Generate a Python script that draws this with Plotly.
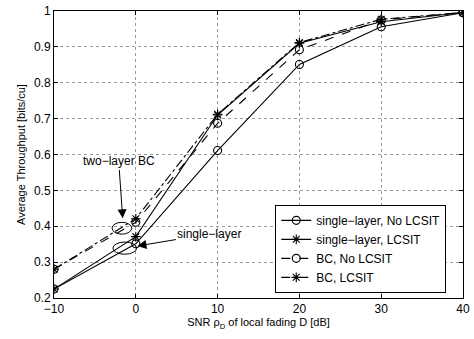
import plotly.graph_objects as go

snr = [-10, 0, 10, 20, 30, 40]
single_no_lcsit = [0.225, 0.351, 0.611, 0.851, 0.956, 0.995]
single_lcsit = [0.225, 0.371, 0.710, 0.910, 0.970, 0.996]
bc_no_lcsit = [0.280, 0.411, 0.687, 0.892, 0.975, 0.996]
bc_lcsit = [0.280, 0.421, 0.712, 0.912, 0.977, 0.996]

x_ticks = [-10, 0, 10, 20, 30, 40]
x_ticklabels = ["\u221210", "0", "10", "20", "30", "40"]
y_ticks = [0.2, 0.3, 0.4, 0.5, 0.6, 0.7, 0.8, 0.9, 1.0]
y_ticklabels = ["0.2", "0.3", "0.4", "0.5", "0.6", "0.7", "0.8", "0.9", "1"]

# highlighted regions (ellipses) in data units: x0, x1, y0, y1
ellipse_bc = [-2.9, -0.5, 0.378, 0.411]
ellipse_single = [-2.8, 0.1, 0.322, 0.356]

FONT = "Liberation Sans, Arial, Helvetica, sans-serif"

fig = go.Figure()

series = [
    ("single\u2212layer, No LCSIT", single_no_lcsit, "solid", "circle-open"),
    ("single\u2212layer, LCSIT", single_lcsit, "solid", "asterisk-open"),
    ("BC, No LCSIT", bc_no_lcsit, "dash", "circle-open"),
    ("BC, LCSIT", bc_lcsit, "dashdot", "asterisk-open"),
]
for name, vals, dash, sym in series:
    fig.add_trace(go.Scatter(
        x=snr, y=vals, name=name, mode="lines+markers",
        line=dict(color="black", width=1.1, dash=dash),
        marker=dict(symbol=sym, size=8, color="black",
                    line=dict(color="black", width=1.1)),
    ))

for e in (ellipse_bc, ellipse_single):
    fig.add_shape(type="circle", xref="x", yref="y",
                  x0=e[0], x1=e[1], y0=e[2], y1=e[3],
                  line=dict(color="black", width=1))

fig.add_annotation(x=-1.6, y=0.422, xref="x", yref="y",
                   text="two\u2212layer BC", showarrow=True,
                   ax=-4, ay=-57, arrowhead=2, arrowsize=1.8, arrowwidth=1,
                   arrowcolor="black", font=dict(family=FONT, size=12, color="black"))
fig.add_annotation(x=0.2, y=0.345, xref="x", yref="y",
                   text="single\u2212layer", showarrow=True,
                   ax=72, ay=-12, arrowhead=2, arrowsize=1.8, arrowwidth=1,
                   arrowcolor="black", font=dict(family=FONT, size=12, color="black"))

axis_common = dict(
    showline=True, linecolor="black", linewidth=1, mirror="allticks",
    ticks="inside", ticklen=4, tickcolor="black",
    showgrid=True, gridcolor="#9a9a9a", griddash="dot", gridwidth=1,
    zeroline=False, tickfont=dict(family=FONT, size=12, color="black"),
    ticklabeloverflow="allow",
)

fig.update_xaxes(range=[-10, 40], tickvals=x_ticks, ticktext=x_ticklabels,
                 title=dict(text="SNR \u03c1<sub>D</sub> of local fading D [dB]",
                            font=dict(family=FONT, size=11, color="black"), standoff=2),
                 **axis_common)
fig.update_yaxes(range=[0.2, 1.0], tickvals=y_ticks, ticktext=y_ticklabels,
                 title=dict(text="Average Throughput [bits/cu]",
                            font=dict(family=FONT, size=11, color="black"), standoff=6),
                 **axis_common)

fig.update_layout(
    width=474, height=339,
    margin=dict(l=54, r=8, t=4, b=41),
    paper_bgcolor="white", plot_bgcolor="white",
    font=dict(family=FONT, size=11, color="black"),
    legend=dict(x=0.541, y=0.018, xanchor="left", yanchor="bottom",
                bgcolor="white", bordercolor="black", borderwidth=1,
                font=dict(family=FONT, size=12, color="black"),
                tracegroupgap=0, itemwidth=30),
    showlegend=True,
)

fig.write_html("out.html", config={"displayModeBar": False},
               post_script="document.body.style.margin='0px';document.body.style.overflow='hidden';")
